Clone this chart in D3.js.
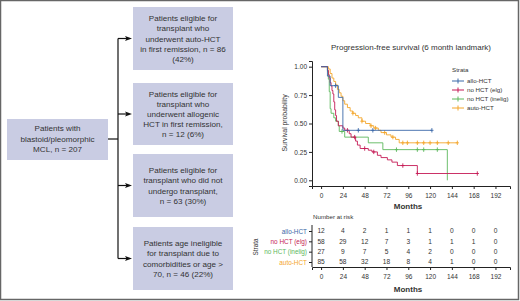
<!DOCTYPE html>
<html>
<head>
<meta charset="utf-8">
<script src="https://cdn.jsdelivr.net/npm/d3@7"></script>
<style>
  body { margin: 0; background: #fff; }
  svg { display: block; font-family: "Liberation Sans", Arial, sans-serif; }
</style>
</head>
<body>
<svg id="chart" width="520" height="301"></svg>
<script>
// flowchart boxes
const rootBoxLines = ["Patients with", "blastoid/pleomorphic", "MCL, n = 207"];
const armBoxLines = [
  ["Patients eligible for", "transplant who", "underwent auto-HCT", "in first remission, n = 86", "(42%)"],
  ["Patients eligible for", "transplant who", "underwent allogenic", "HCT in first remission,", "n = 12 (6%)"],
  ["Patients eligible for", "transplant who did not", "undergo transplant,", "n = 63 (30%)"],
  ["Patients age ineligible", "for transplant due to", "comorbidities or age >", "70, n = 46 (22%)"]
];

// KM curves: step times (months) and survival after each step
const strata = ["allo-HCT", "no HCT (elg)", "no HCT (inelig)", "auto-HCT"];
const strataColors = ["#3a68a8", "#c51b56", "#5cb85c", "#f4a62a"];

const alloTimes = [0, 7, 10, 19, 24];
const alloSurv = [1, 0.917, 0.833, 0.73, 0.44];
const alloCensor = [16, 41, 57, 122];
const alloEnd = 122;

const elgTimes = [0, 7, 8, 9, 10, 11, 12, 13, 14, 15, 16, 17, 19, 24, 26, 31, 33, 38, 40, 43, 52, 56, 62, 66, 73, 78, 84, 106];
const elgSurv = [1, 0.97, 0.93, 0.90, 0.86, 0.83, 0.79, 0.76, 0.69, 0.62, 0.57, 0.52, 0.48, 0.46, 0.44, 0.41, 0.38, 0.345, 0.31, 0.28, 0.265, 0.25, 0.22, 0.20, 0.18, 0.16, 0.13, 0.06];
const elgCensor = [29, 37, 48, 58, 90, 106, 172];
const elgEnd = 172;

const inelTimes = [0, 7, 8, 9, 10, 11, 14, 16, 19, 20, 26, 52, 68, 139];
const inelSurv = [1, 0.96, 0.89, 0.78, 0.63, 0.59, 0.55, 0.52, 0.48, 0.43, 0.38, 0.33, 0.27, 0];
const inelCensor = [23, 83, 106, 113, 128];
const inelEnd = 139;

const autoTimes = [0, 8, 10, 12, 14, 16, 18, 20, 22, 24, 26, 29, 32, 35, 38, 41, 45, 49, 54, 58, 63, 66, 72, 77, 82, 86];
const autoSurv = [1, 0.98, 0.94, 0.90, 0.87, 0.84, 0.80, 0.77, 0.74, 0.70, 0.67, 0.64, 0.61, 0.59, 0.57, 0.55, 0.52, 0.50, 0.48, 0.46, 0.44, 0.42, 0.40, 0.38, 0.36, 0.33];
const autoCensor = [35, 45, 55, 60, 70, 79, 90, 95, 106, 113, 120, 128, 140, 150];
const autoEnd = 150;

// number at risk table
const riskMonths = [0, 24, 48, 72, 96, 120, 144, 168, 192];
const riskAllo = [12, 4, 2, 1, 1, 1, 0, 0, 0];
const riskElg = [58, 29, 12, 7, 3, 1, 1, 1, 0];
const riskInel = [27, 9, 7, 5, 4, 2, 0, 0, 0];
const riskAuto = [85, 58, 32, 18, 8, 4, 1, 0, 0];

const yTicks = [0, 0.25, 0.5, 0.75, 1];

const svg = d3.select("#chart");
const ink = "#333";

// ---------- flowchart ----------
const boxFill = "#c9cce3";
const flow = svg.append("g").attr("font-size", 8.1).attr("fill", ink);

const rootBox = { x: 7, y: 119, w: 101, h: 41 };
const armX = 133, armW = 100;
const armY = [7, 83, 154, 227];
const armH = [63, 62, 63, 63];
const trunkX = 118;

flow.append("rect").attr("x", rootBox.x).attr("y", rootBox.y)
  .attr("width", rootBox.w).attr("height", rootBox.h).attr("fill", boxFill);
flow.append("text").attr("text-anchor", "middle")
  .selectAll("tspan").data(rootBoxLines).join("tspan")
  .attr("x", rootBox.x + rootBox.w / 2)
  .attr("y", (d, i) => 131 + i * 10.5)
  .text(d => d);

armBoxLines.forEach((lines, k) => {
  flow.append("rect").attr("x", armX).attr("y", armY[k])
    .attr("width", armW).attr("height", armH[k]).attr("fill", boxFill);
  const cy = armY[k] + armH[k] / 2;
  const top = cy - (lines.length - 1) * 10.2 / 2 + 3;
  flow.append("text").attr("text-anchor", "middle")
    .selectAll("tspan").data(lines).join("tspan")
    .attr("x", armX + armW / 2)
    .attr("y", (d, i) => top + i * 10.2)
    .text(d => d);
});

// connectors
const arrowY = armY.map((y, k) => y + armH[k] / 2);
flow.append("line").attr("x1", rootBox.x + rootBox.w).attr("x2", trunkX)
  .attr("y1", 139).attr("y2", 139).attr("stroke", "#111").attr("stroke-width", 1.2);
flow.append("line").attr("x1", trunkX).attr("x2", trunkX)
  .attr("y1", arrowY[0]).attr("y2", arrowY[3]).attr("stroke", "#111").attr("stroke-width", 1.2);
arrowY.forEach(y => {
  flow.append("line").attr("x1", trunkX).attr("x2", 128).attr("y1", y).attr("y2", y)
    .attr("stroke", "#111").attr("stroke-width", 1.2);
  flow.append("path").attr("d", `M${armX - 1},${y} L${125},${y - 2.6} L${126.5},${y} L${125},${y + 2.6} Z`)
    .attr("fill", "#111");
});

// ---------- KM plot ----------
const x = d3.scaleLinear().domain([-10, 208]).range([312, 510]);
const y = d3.scaleLinear().domain([-0.05, 1.05]).range([186, 61]);
const km = svg.append("g");

km.append("text").attr("x", 411).attr("y", 50).attr("text-anchor", "middle")
  .attr("font-size", 8).attr("fill", ink)
  .text("Progression-free survival (6 month landmark)");

const yAxis = km.append("g").attr("transform", "translate(312,0)")
  .call(d3.axisLeft(y).tickValues(yTicks).tickFormat(d3.format(".2f")).tickSize(3).tickPadding(2));
const xAxis = km.append("g").attr("transform", "translate(0,186)")
  .call(d3.axisBottom(x).tickValues(riskMonths).tickSize(3).tickPadding(4));
[yAxis, xAxis].forEach(a => {
  a.select(".domain").attr("stroke", "#222").attr("stroke-width", 1);
  a.selectAll(".tick line").attr("stroke", "#222");
  a.selectAll("text").attr("font-size", 6.5).attr("fill", ink).attr("font-family", "Liberation Sans, Arial, sans-serif");
});

km.append("text").attr("transform", "translate(287,123) rotate(-90)")
  .attr("text-anchor", "middle").attr("font-size", 6.8).attr("fill", ink)
  .text("Survival probability");
km.append("text").attr("x", 408).attr("y", 209).attr("text-anchor", "middle")
  .attr("font-size", 8).attr("font-weight", "bold").attr("fill", ink)
  .attr("font-family", "Liberation Sans Narrow, Arial Narrow, sans-serif")
  .text("Months");

const series = [
  { times: alloTimes, surv: alloSurv, censor: alloCensor, end: alloEnd },
  { times: elgTimes, surv: elgSurv, censor: elgCensor, end: elgEnd },
  { times: inelTimes, surv: inelSurv, censor: inelCensor, end: inelEnd },
  { times: autoTimes, surv: autoSurv, censor: autoCensor, end: autoEnd }
];

const stepLine = d3.line().x(d => x(d[0])).y(d => y(d[1])).curve(d3.curveStepAfter);
function survAt(s, t) {
  let v = 1;
  s.times.forEach((tt, i) => { if (tt <= t) v = s.surv[i]; });
  return v;
}

// draw auto first, allo last (so blue sits on top as in the figure)
[3, 2, 1, 0].forEach(k => {
  const s = series[k];
  const pts = s.times.map((t, i) => [t, s.surv[i]]);
  if (s.end > s.times[s.times.length - 1]) pts.push([s.end, survAt(s, s.end)]);
  km.append("path").attr("d", stepLine(pts)).attr("fill", "none")
    .attr("stroke", strataColors[k]).attr("stroke-width", 0.9);
  km.append("g").selectAll("path").data(s.censor).join("path")
    .attr("d", t => {
      const cx = x(t), cy = y(survAt(s, t));
      return `M${cx},${cy - 2.2}V${cy + 2.2}M${cx - 1.6},${cy}H${cx + 1.6}`;
    })
    .attr("stroke", strataColors[k]).attr("stroke-width", 0.9);
});

// legend
const legend = km.append("g").attr("font-size", 6.2).attr("fill", ink);
legend.append("text").attr("x", 452).attr("y", 72).text("Strata");
strata.forEach((name, k) => {
  const ly = 81 + k * 9;
  legend.append("line").attr("x1", 452).attr("x2", 464).attr("y1", ly).attr("y2", ly)
    .attr("stroke", strataColors[k]).attr("stroke-width", 1);
  legend.append("path").attr("d", `M458,${ly - 2.5}V${ly + 2.5}`)
    .attr("stroke", strataColors[k]).attr("stroke-width", 1);
  legend.append("text").attr("x", 467).attr("y", ly + 2.2).text(name);
});

// ---------- risk table ----------
const risk = svg.append("g");
const rowY = d3.scalePoint().domain(strata).range([231, 262]);
const riskRows = [riskAllo, riskElg, riskInel, riskAuto];

risk.append("text").attr("x", 313).attr("y", 219).attr("font-size", 6.2).attr("fill", ink)
  .text("Number at risk");

const rAxisY = risk.append("g").attr("transform", "translate(312,0)")
  .call(d3.axisLeft(rowY).tickSize(3).tickPadding(2));
rAxisY.select(".domain").attr("d", "M0,225V267").attr("stroke", "#222");
rAxisY.selectAll(".tick line").attr("stroke", "#222");
rAxisY.selectAll("text").attr("font-size", 6.4).attr("font-family", "Liberation Sans, Arial, sans-serif")
  .attr("fill", (d, i) => strataColors[i]);

const rAxisX = risk.append("g").attr("transform", "translate(0,267)")
  .call(d3.axisBottom(x).tickValues(riskMonths).tickSize(3).tickPadding(4));
rAxisX.select(".domain").attr("stroke", "#222");
rAxisX.selectAll(".tick line").attr("stroke", "#222");
rAxisX.selectAll("text").attr("font-size", 6.5).attr("fill", ink).attr("font-family", "Liberation Sans, Arial, sans-serif");

riskRows.forEach((row, k) => {
  risk.append("g").selectAll("text").data(row).join("text")
    .attr("x", (d, i) => x(riskMonths[i]))
    .attr("y", rowY(strata[k]) + 2.3)
    .attr("text-anchor", "middle").attr("font-size", 6.6).attr("fill", ink)
    .text(d => d);
});

risk.append("text").attr("transform", "translate(258,247) rotate(-90)")
  .attr("text-anchor", "middle").attr("font-size", 6.4).attr("fill", ink).text("Strata");
risk.append("text").attr("x", 408).attr("y", 292).attr("text-anchor", "middle")
  .attr("font-size", 8).attr("font-weight", "bold").attr("fill", ink)
  .attr("font-family", "Liberation Sans Narrow, Arial Narrow, sans-serif")
  .text("Months");

// outer frame
svg.append("rect").attr("x", 0.5).attr("y", 0.5).attr("width", 518).attr("height", 299)
  .attr("fill", "none").attr("stroke", "#666").attr("stroke-width", 1.5);
</script>
</body>
</html>
